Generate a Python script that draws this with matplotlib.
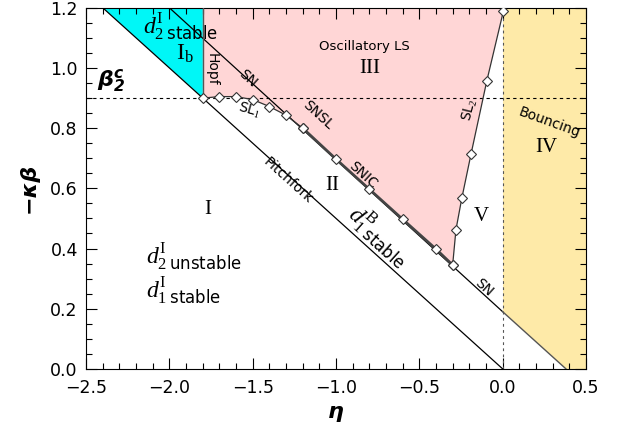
import numpy as np
import matplotlib
matplotlib.use("Agg")
import matplotlib.pyplot as plt

plt.rcParams['mathtext.fontset'] = 'custom'
plt.rcParams['mathtext.rm'] = 'Liberation Serif'
plt.rcParams['mathtext.it'] = 'Liberation Serif:italic'
plt.rcParams['mathtext.sf'] = 'DejaVu Sans'
plt.rcParams['mathtext.bf'] = 'DejaVu Sans:italic:bold'

# boundaries
pitch_eta = [-2.4, 0.0]
pitch_y = [1.2, 0.0]
sn_eta = [-2.0, 0.0]
sn_y = [1.2, 0.19]
sn_ext_eta = [0.0, 0.38]
sn_ext_y = [0.19, 0.0]
hopf_eta = [-1.8, -1.8]
hopf_y = [0.9, 1.2]
sl1_eta = [-1.8, -1.7, -1.6, -1.5, -1.4, -1.3, -1.2]
sl1_y = [0.90, 0.905, 0.905, 0.895, 0.872, 0.843, 0.80]
snic_eta = [-1.2, -1.0, -0.8, -0.6, -0.4, -0.3]
snic_y = [0.80, 0.697, 0.597, 0.497, 0.398, 0.345]
sl2_eta = [-0.3, -0.28, -0.245, -0.19, -0.095, 0.005]
sl2_y = [0.345, 0.463, 0.567, 0.713, 0.957, 1.19]
beta2c = 0.9

fig = plt.figure(figsize=(6.2, 4.37), dpi=100)
ax = fig.add_axes([0.139, 0.156, 0.806, 0.826])

# shaded regions
ax.fill([-2.4, -1.8, -1.8], [1.2, 1.2, 0.9], color='#00f7f7', lw=0, zorder=1)
pink_x = [-1.8, sl2_eta[-1]] + sl2_eta[::-1] + snic_eta[::-1] + sl1_eta[::-1]
pink_y = [1.2, 1.2] + sl2_y[::-1] + snic_y[::-1] + sl1_y[::-1]
ax.fill(pink_x, pink_y, color='#ffd6d6', lw=0, zorder=1)
ax.fill([0, 0, 0.5, 0.5, 0.38], [0.19, 1.2, 1.2, 0.0, 0.0], color='#feeaa8', lw=0, zorder=1)

# lines
ax.plot(pitch_eta, pitch_y, color='black', lw=0.9, zorder=3)
ax.plot(sn_eta, sn_y, color='black', lw=0.9, zorder=3)
ax.plot(sn_ext_eta, sn_ext_y, color='#555555', lw=1.0, zorder=3)
ax.plot(hopf_eta, hopf_y, color='#555555', lw=1.0, zorder=3)
ax.plot(snic_eta, snic_y, color='#444444', lw=2.0, zorder=3)
ax.plot(sl1_eta, sl1_y, color='#333333', lw=0.9, marker='D', ms=5.5,
        mfc='white', mec='#333333', mew=0.8, zorder=4)
ax.plot(snic_eta, snic_y, ls='none', marker='D', ms=5.5,
        mfc='white', mec='#333333', mew=0.8, zorder=4)
ax.plot(sl2_eta, sl2_y, color='#333333', lw=0.9, marker='D', ms=5.5,
        mfc='white', mec='#333333', mew=0.8, zorder=4)
ax.axhline(beta2c, color='black', lw=0.8, ls=(0, (3, 3)), zorder=2)
ax.axvline(0.0, color='#555555', lw=0.8, ls=(0, (2.5, 3)), zorder=2)

ax.set_xlim(-2.5, 0.5)
ax.set_ylim(0.0, 1.2)
ax.set_xticks(np.arange(-2.5, 0.51, 0.5))
ax.set_yticks(np.arange(0.0, 1.21, 0.2))
ax.set_xticks(np.arange(-2.5, 0.51, 0.1), minor=True)
ax.set_yticks(np.arange(0.0, 1.21, 0.05), minor=True)
ax.tick_params(which='both', direction='in', top=True, right=True, labelsize=12.5, width=0.8)
ax.tick_params(which='major', length=8)
ax.tick_params(which='minor', length=4)
ax.tick_params(axis='x', pad=7)
ax.tick_params(axis='y', pad=6)
for s in ax.spines.values():
    s.set_linewidth(0.8)
ax.set_xticklabels(['\u22122.5', '\u22122.0', '\u22121.5', '\u22121.0', '\u22120.5', '0.0', '0.5'])
ax.set_yticklabels(['0.0', '0.2', '0.4', '0.6', '0.8', '1.0', '1.2'])
ax.set_xlabel('\u03b7', fontsize=16, fontweight='bold', style='italic', labelpad=4)
ax.set_ylabel('\u2212\u03ba\u03b2', fontsize=16, fontweight='bold', style='italic', labelpad=8)

# labels
sn_ang = np.degrees(np.arctan(-0.505))
kw = dict(transform_rotates_text=True, rotation_mode='anchor', ha='center', va='center', fontsize=10)
ax.text(-2.16, 1.14, r'$d_{\mathit{2}\;\mathsf{stable}}^{\mathrm{I}}$', fontsize=17, ha='left', va='center')
ax.text(-1.905, 1.05, r'$\mathrm{I}_{\mathrm{b}}$', fontsize=17, ha='center', va='center')
ax.text(-1.745, 0.995, 'Hopf', rotation=-90, fontsize=10, ha='center', va='center')
ax.text(-1.53, 0.965, 'SN', rotation=sn_ang, **kw)
ax.text(-2.35, 0.955, r'$\mathbf{\beta}_{\mathbf{2}}^{\mathbf{c}}$', fontsize=16, ha='center', va='center')
ax.text(-1.52, 0.858, r'SL$_{1}$', rotation=-16, fontsize=10, ha='center', va='center',
        rotation_mode='anchor')
ax.text(-1.11, 0.843, 'SNSL', rotation=sn_ang, **kw)
ax.text(-1.29, 0.625, 'Pitchfork', rotation=-26.57, **kw)
ax.text(-1.02, 0.61, 'II', fontsize=15, family='Liberation Serif', ha='center', va='center')
ax.text(-0.84, 0.645, 'SNIC', rotation=sn_ang, **kw)
ax.text(-0.74, 0.445, r'$d_{\mathit{1}\;\mathsf{stable}}^{\mathrm{B}}$', fontsize=17,
        rotation=-26.57, transform_rotates_text=True, rotation_mode='anchor',
        ha='center', va='center')
ax.text(-1.77, 0.53, 'I', fontsize=15, family='Liberation Serif', ha='center', va='center')
ax.text(-2.14, 0.375, r'$d_{\mathit{2}\;\mathsf{unstable}}^{\mathrm{I}}$', fontsize=17, ha='left', va='center')
ax.text(-2.14, 0.262, r'$d_{\mathit{1}\;\mathsf{stable}}^{\mathrm{I}}$', fontsize=17, ha='left', va='center')
ax.text(-0.83, 1.07, 'Oscillatory LS', fontsize=9.5, ha='center', va='center')
ax.text(-0.80, 1.0, 'III', fontsize=15, family='Liberation Serif', ha='center', va='center')
ax.text(-0.125, 0.505, 'V', fontsize=15, family='Liberation Serif', ha='center', va='center')
ax.text(0.28, 0.82, 'Bouncing', rotation=-20, fontsize=10, ha='center', va='center',
        rotation_mode='anchor')
ax.text(0.265, 0.735, 'IV', fontsize=15, family='Liberation Serif', ha='center', va='center')
ax.text(-0.195, 0.86, r'SL$_{2}$', rotation=76, fontsize=10, ha='center', va='center',
        rotation_mode='anchor')
ax.text(-0.115, 0.272, 'SN', rotation=sn_ang, **kw)

fig.savefig('out.png', dpi=100)
